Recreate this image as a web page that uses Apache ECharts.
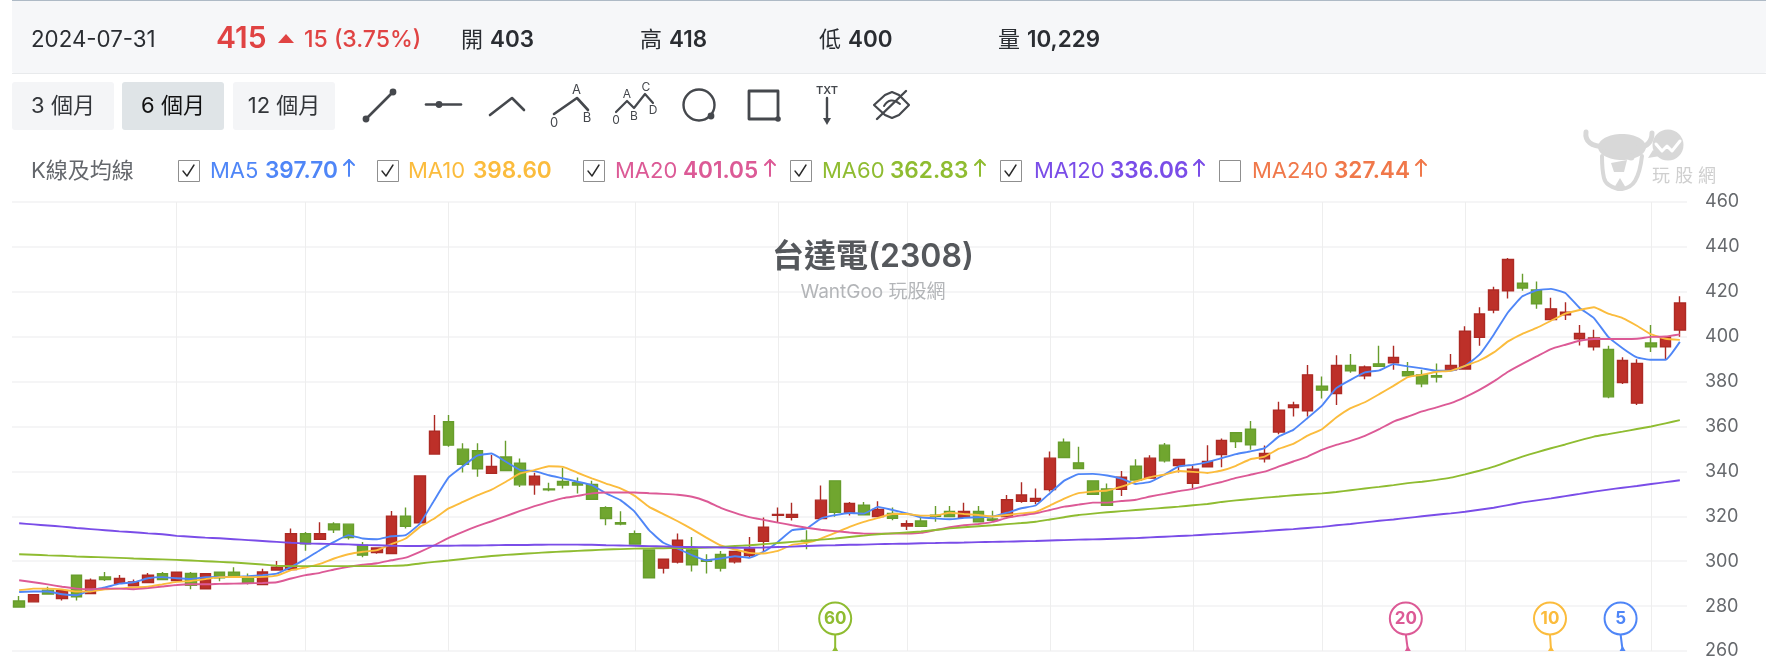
<!DOCTYPE html>
<html lang="zh-Hant">
<head>
<meta charset="utf-8">
<title>台達電(2308) K線</title>
<script src="https://cdn.jsdelivr.net/npm/echarts@6/dist/echarts.min.js"></script>
<style>
html,body{margin:0;padding:0;background:#fff}
#chart{width:1766px;height:668px}
</style>
</head>
<body>
<div id="chart"></div>
<script>
// Daily OHLC, oldest first
const opens = [282.3,281.9,287.1,283.4,293.8,285.6,293.0,290.2,289.0,290.5,294.4,291.4,294.5,287.7,295.1,295.1,292.9,289.6,296.1,296.3,312.2,309.8,316.6,316.5,307.1,303.9,303.4,320.1,317.1,347.7,
362.1,349.9,349.2,339.1,346.4,343.7,334.0,332.2,335.5,335.0,334.2,323.8,317.2,312.2,305.0,296.9,299.6,305.0,300.6,303.0,299.7,302.5,308.9,320.4,319.6,309.2,319.0,335.8,321.8,325.0,
319.9,321.3,315.7,317.9,320.5,322.2,319.6,322.2,318.8,319.9,326.7,326.7,331.9,353.0,343.8,335.8,332.2,332.0,342.3,337.0,351.7,342.6,334.7,342.0,347.5,357.2,358.8,345.6,357.5,368.4,
367.0,378.0,374.7,387.2,382.6,387.9,388.4,384.4,383.0,382.6,385.3,385.6,399.7,411.9,420.5,423.8,420.8,407.6,409.7,399.1,395.5,394.3,379.6,370.4,397.2,395.5,403];
const closes = [279.6,285.1,285.4,286.9,284.1,291.5,291.8,292.3,290.8,293.8,291.8,295.1,289.3,294.4,292.6,292.9,290.5,295.2,297.3,312.2,307.7,312.2,314.0,310.5,302.7,305.9,320.1,315.6,338.0,357.9,
351.7,343.2,341.2,342.2,340.4,334.0,337.9,331.8,333.9,333.9,327.6,319.0,316.6,307.6,292.6,300.9,309.4,298.4,299.9,296.9,304.3,305.5,315.2,320.8,320.8,308.9,327.2,321.8,325.7,320.7,
323.1,319.1,316.7,315.5,320.0,319.9,322.2,317.6,318.2,327.4,329.5,328.0,345.9,346.2,341.3,329.8,324.9,337.4,336.2,345.9,344.7,345.3,341.0,344.4,353.8,353.3,351.8,348.0,367.3,369.6,
383.0,376.2,387.2,384.8,386.5,386.8,390.8,382.6,379.0,382.0,387.2,402.4,410.1,420.8,434.4,421.7,414.7,412.4,410.9,401.5,399.4,373.2,389.4,388.1,395.5,399.9,415];
const lows = [279.6,281.9,285.4,282.5,282.5,285.6,291.2,290.2,289.0,290.5,291.8,291.4,287.5,287.7,291.1,292.9,289.6,289.6,296.1,296.3,304.6,309.8,312.6,309.7,301.8,303.3,303.4,314.6,317.1,347.7,
351.0,339.5,337.6,339.1,340.4,333.1,329.6,331.2,332.4,330.2,327.6,316.0,316.0,307.6,292.6,294.5,299.0,295.4,294.5,295.4,299.0,301.5,304.2,317.4,318.1,305.3,319.0,319.8,320.4,320.7,
319.9,318.2,313.9,315.5,317.6,319.9,319.6,317.6,318.2,319.9,326.0,325.4,331.0,346.2,341.3,329.8,324.9,329.0,336.2,337.0,344.0,339.5,332.6,342.0,341.9,350.4,349.6,344.0,356.6,364.5,
364.4,372.5,369.6,383.9,381.1,386.8,385.3,382.6,377.5,379.6,385.3,385.6,396.0,410.4,417.0,420.5,412.5,407.6,407.4,396.1,393.9,372.6,378.9,369.6,393.2,389.7,400];
const highs = [284.5,285.1,288.6,286.9,293.8,292.3,295.2,293.9,291.8,294.7,295.2,295.1,295.2,294.4,295.1,297.3,294.5,296.6,300.1,314.6,313.0,317.4,317.4,316.5,308.6,305.9,322.4,323.9,338.0,365.1,
365.1,352.5,352.5,347.3,353.6,345.8,339.4,335.0,341.6,337.3,335.8,324.5,322.3,313.7,305.0,300.9,312.3,310.8,303.1,304.5,304.3,310.8,319.5,323.9,326.0,313.8,333.7,335.8,326.4,326.4,
326.7,323.9,318.2,319.9,324.6,324.6,326.0,324.6,322.5,329.5,335.2,332.4,348.9,354.7,351.0,335.8,334.6,340.2,345.4,347.2,352.6,345.3,342.5,351.7,354.7,357.2,362.4,351.5,371.0,371.0,
387.4,382.3,391.7,392.3,387.2,396.0,396.0,388.7,385.3,388.1,392.3,404.6,413.1,422.3,435.1,428.0,424.6,417.3,415.3,405.2,403.1,396.0,390.9,390.0,405.2,399.9,418];

// Moving averages, one value per session
const ma5 = [286.3,286.5,286.5,285.3,284.8,287.1,288.3,290.0,290.6,292.4,292.9,292.4,292.1,292.9,293.0,293.0,293.3,293.8,294.5,297.5,300.9,304.9,308.6,311.6,310.1,309.8,311.1,311.6,316.8,327.2,
337.3,342.3,347.0,348.0,344.3,340.6,340.1,338.3,336.9,335.4,333.9,330.2,327.2,322.0,313.8,308.2,305.6,302.7,300.4,301.2,302.2,301.5,304.2,308.6,313.8,314.6,319.0,320.5,321.5,321.2,
324.2,322.8,321.3,319.6,319.1,318.7,319.3,319.6,319.9,321.6,323.6,324.8,330.3,335.9,338.8,338.9,338.2,336.8,334.4,335.3,338.5,342.2,342.9,344.1,345.9,347.7,348.9,350.4,355.6,358.5,
363.8,369.3,377.1,380.8,384.1,385.0,387.8,386.8,385.9,384.8,384.8,387.0,392.0,400.9,410.9,418.0,420.7,421.3,419.5,412.8,408.3,399.9,394.9,390.8,389.7,389.7,397.7];
const ma10 = [287.1,287.8,287.8,287.4,286.5,286.5,287.5,287.8,288.3,288.6,289.7,290.8,291.2,292.0,292.9,293.0,292.9,293.0,293.6,296.0,297.2,298.8,301.2,303.1,304.2,304.9,307.6,310.1,315.3,319.0,
323.5,326.4,329.3,331.9,335.4,339.1,340.6,342.3,342.0,339.4,336.9,334.6,332.4,329.1,324.2,321.0,317.8,314.3,310.5,307.0,305.2,303.7,303.4,304.6,307.3,308.2,310.1,312.6,315.3,317.5,
319.3,321.0,321.0,320.3,320.3,321.6,321.0,320.6,319.9,320.6,321.3,321.9,324.8,327.9,330.3,331.0,331.5,333.2,335.5,337.4,338.6,340.2,339.8,339.3,340.4,342.5,345.4,346.6,350.1,352.3,
355.9,358.8,364.0,368.2,370.8,374.4,378.1,382.0,383.0,384.4,384.8,387.0,389.4,393.0,397.9,401.3,403.9,407.1,410.3,411.9,413.1,410.3,408.3,404.9,401.0,399.1,398.6];
const ma20 = [291.5,290.6,289.7,288.6,287.8,287.5,287.8,287.8,287.5,288.0,288.7,289.4,289.7,289.7,289.9,290.0,290.2,290.3,290.6,292.3,293.8,294.8,296.3,297.5,298.4,299.1,300.4,301.6,304.2,307.1,
310.4,313.1,315.6,317.8,320.1,322.4,324.5,326.4,328.1,329.1,330.2,330.6,330.6,330.6,330.3,330.0,329.6,328.7,326.7,323.8,321.5,319.6,318.4,317.2,316.0,314.9,314.0,313.4,312.8,312.3,
312.2,312.4,312.3,312.6,313.9,315.1,316.0,316.6,317.5,319.3,320.4,321.3,322.8,324.3,325.2,326.1,326.1,326.8,327.4,328.8,330.0,331.2,332.2,333.8,335.3,337.1,338.5,339.9,342.2,344.4,
346.6,349.6,351.8,353.6,355.8,358.8,362.2,364.4,366.7,368.5,370.4,373.1,376.3,380.1,384.4,387.9,391.2,394.5,396.4,398.2,399.0,399.0,399.0,399.1,399.9,400.1,401.05];
const ma60 = [303.1,302.9,302.6,302.4,302.1,301.9,301.7,301.5,301.2,301.0,300.8,300.6,300.3,300.0,299.7,299.4,299.0,298.5,298.0,297.8,297.8,297.8,297.8,297.8,297.8,297.8,297.9,298.2,299.0,299.7,
300.3,301.0,301.7,302.3,302.8,303.2,303.6,304.0,304.3,304.6,304.9,305.2,305.4,305.6,305.7,305.8,305.9,305.9,306.1,306.4,306.8,307.1,307.6,308.1,308.6,309.1,309.6,310.1,310.8,311.4,
312.0,312.4,312.8,313.2,313.9,314.6,315.1,315.6,316.0,316.5,317.0,317.6,318.6,319.6,320.6,321.2,321.8,322.3,322.8,323.3,323.8,324.3,324.9,325.5,326.4,327.1,327.7,328.3,328.8,329.4,
329.8,330.2,330.8,331.6,332.4,333.1,333.9,334.8,335.4,336.2,337.2,338.7,340.3,342.1,344.4,346.6,348.5,350.3,352.0,353.8,355.5,356.6,357.7,358.9,360.0,361.4,362.83];
const ma120 = [316.9,316.4,315.9,315.4,314.8,314.3,313.8,313.3,312.9,312.4,312.0,311.3,310.9,310.5,310.2,309.8,309.4,309.0,308.6,308.2,307.9,307.8,307.6,307.5,307.2,307.1,306.9,306.8,306.8,306.9,
306.9,307.0,307.0,307.1,307.2,307.2,307.3,307.4,307.4,307.4,307.3,307.1,307.0,306.9,306.7,306.6,306.4,306.3,306.2,306.1,306.0,306.0,306.1,306.3,306.5,306.8,307.0,307.1,307.3,307.4,
307.6,307.7,307.8,308.0,308.1,308.2,308.3,308.5,308.6,308.7,308.9,309.0,309.2,309.4,309.6,309.7,309.9,310.1,310.3,310.6,310.9,311.2,311.5,311.9,312.2,312.6,313.0,313.4,313.9,314.3,
314.8,315.3,316.0,316.6,317.3,318.0,318.6,319.3,320.0,320.7,321.3,322.0,322.9,323.8,325.0,326.2,327.1,328.0,329.0,330.0,331.0,331.9,332.7,333.5,334.4,335.2,336.06];

const categories = opens.map((_, i) => i);
const monthLines = [11, 20, 30, 43, 53, 62, 72, 82, 91, 101, 114];
const yTicks = { min: 260, max: 460, step: 20 };

const maNames = ['MA5', 'MA10', 'MA20', 'MA60', 'MA120', 'MA240'];
const maLatest = ['397.70', '398.60', '401.05', '362.83', '336.06', '327.44'];
const maRising = [true, false, true, true, true, true];
const maChecked = [true, true, true, true, true, false];
const maColors = ['#4f86f7', '#fbbc3d', '#dc5a96', '#8fbc31', '#7a4de8', '#f0784a'];

// Sessions whose price drops out of each moving average next
const pinSessions = [57, 97, 107, 112];
const pinLabels = ['60', '20', '10', '5'];
const pinColors = ['#8fbc31', '#dc5a96', '#fbbc3d', '#4f86f7'];

const quote = { date: '2024-07-31', close: '415', change: '15 (3.75%)', open: '403', high: '418', low: '400', volume: '10,229' };
const rangeButtons = ['3 個月', '6 個月', '12 個月'];

const UI_FONT = 'Inter, "Noto Sans CJK TC", sans-serif';
const INK = '#2a2d32';
const ICON = '#45484d';

function label(text, x, y, size, fill, weight, align) {
  return { type: 'text', silent: true, z: 20, style: {
    text, x, y, fill, align: align || 'left', verticalAlign: 'middle',
    font: (weight || 'normal') + ' ' + size + 'px ' + UI_FONT } };
}
function stroke(shape, type, color, width, extra) {
  return { type, silent: true, z: 20, shape,
    style: Object.assign({ stroke: color || ICON, lineWidth: width || 2.2, fill: 'none', lineCap: 'round', lineJoin: 'round' }, extra || {}) };
}
function dot(cx, cy, r, color) {
  return { type: 'circle', silent: true, z: 21, shape: { cx, cy, r }, style: { fill: color || ICON } };
}
function fillRect(x, y, width, height, fill, r) {
  return { type: 'rect', silent: true, z: 1, shape: { x, y, width, height, r: r || 0 }, style: { fill } };
}

// Quote strip across the top
const header = [
  fillRect(12, 0, 1754, 73, '#f6f7f9', 2),
  fillRect(12, 0, 1754, 1, '#aebac6'),
  fillRect(12, 73, 1754, 1, '#e8eaec'),
  label(quote.date, 31, 40, 22.3, INK),
  label(quote.close, 216, 38.5, 30, '#e04343', '600'),
  { type: 'polygon', silent: true, z: 20, shape: { points: [[286, 34], [278, 43], [294, 43]] }, style: { fill: '#e04343' } },
  label(quote.change, 304, 40, 23, '#e04343', '500'),
  label('開', 461, 40, 22, INK), label(quote.open, 490, 40, 22.4, INK, '600'),
  label('高', 640, 40, 22, INK), label(quote.high, 669, 40, 22.4, INK, '600'),
  label('低', 819, 40, 22, INK), label(quote.low, 848, 40, 22.4, INK, '600'),
  label('量', 998, 40, 22, INK), label(quote.volume, 1027, 40, 22.4, INK, '600')
];

// Range buttons
const rangeBoxes = [[12, 102], [122, 102], [233, 102]];
const buttons = rangeButtons.flatMap((t, i) => [
  fillRect(rangeBoxes[i][0], 82, rangeBoxes[i][1], 48, i === 1 ? '#dfe4e7' : '#f4f5f7', 3),
  label(t, rangeBoxes[i][0] + rangeBoxes[i][1] / 2, 106, 22, i === 1 ? '#111' : '#33363a', 'normal', 'center')
]);

// Drawing tools
const tools = [
  stroke({ x1: 366, y1: 119, x2: 393, y2: 92 }, 'line', ICON, 2.6), dot(366, 119, 3.4), dot(393, 92, 3.4),
  stroke({ x1: 426, y1: 104.5, x2: 461, y2: 104.5 }, 'line', ICON, 2.6), dot(439, 104.5, 3.4),
  stroke({ points: [[490, 115], [512, 98], [524, 110]] }, 'polyline', ICON, 2.6),
  stroke({ points: [[554, 114], [577, 98], [588, 110]] }, 'polyline', ICON, 2.6),
  label('A', 576.5, 90, 13, ICON, 'normal', 'center'),
  label('0', 554, 123, 13, ICON, 'normal', 'center'),
  label('B', 587, 118, 13, ICON, 'normal', 'center'),
  stroke({ points: [[616, 112], [627, 101], [634, 108], [645, 94], [653, 103]] }, 'polyline', ICON, 2.2),
  label('A', 627, 94, 12, ICON, 'normal', 'center'),
  label('0', 616, 120, 12, ICON, 'normal', 'center'),
  label('B', 634, 116, 12, ICON, 'normal', 'center'),
  label('C', 646, 87, 12, ICON, 'normal', 'center'),
  label('D', 653, 110, 12, ICON, 'normal', 'center'),
  stroke({ cx: 699, cy: 105, r: 15.5 }, 'circle', ICON, 2.4), dot(711, 116, 3.4),
  stroke({ x: 749, y: 91, width: 29, height: 28 }, 'rect', ICON, 2.8), dot(778, 119, 2.8),
  label('TXT', 827, 91, 11, ICON, '600', 'center'),
  stroke({ x1: 827, y1: 98, x2: 827, y2: 119 }, 'line', ICON, 2.4),
  { type: 'polygon', silent: true, z: 20, shape: { points: [[823, 118], [831, 118], [827, 125]] }, style: { fill: ICON } },
  stroke({ points: [[874, 105], [885, 95], [892, 92], [899, 95], [909, 105], [899, 115], [892, 118], [885, 115]] }, 'polygon', ICON, 2.2),
  stroke({ x1: 884, y1: 106, cpx1: 890, cpy1: 96, x2: 900, y2: 104 }, 'bezierCurve', ICON, 2),
  stroke({ x1: 877, y1: 119, x2: 906, y2: 91 }, 'line', ICON, 2.4)
];

// Moving-average toggle row
const rowBoxes = [178, 377, 583, 790, 1000, 1219];
const rowNames = [210, 408, 615, 822, 1034, 1252];
const rowValues = [265, 473, 683, 890, 1110, 1334];
const rowArrows = [349, 0, 770, 980, 1199, 1421];
const maRow = [label('K線及均線', 31, 171, 22, '#64676c')];
maNames.forEach((name, i) => {
  maRow.push(stroke({ x: rowBoxes[i] + 0.5, y: 160.5, width: 21, height: 21 }, 'rect', '#8f8f8f', 1, { lineCap: 'butt' }));
  if (maChecked[i]) {
    const bx = rowBoxes[i];
    maRow.push(stroke({ points: [[bx + 5, 171], [bx + 9, 176], [bx + 16, 165]] }, 'polyline', '#2a2a2a', 1.4));
  }
  maRow.push(label(name, rowNames[i], 171, 22, maColors[i]));
  maRow.push(label(maLatest[i], rowValues[i], 171, 22.6, maColors[i], '600'));
  if (maRising[i]) {
    const ax = rowArrows[i];
    maRow.push(stroke({ x1: ax, y1: 176, x2: ax, y2: 160 }, 'line', maColors[i], 2));
    maRow.push(stroke({ points: [[ax - 5, 165], [ax, 160], [ax + 5, 165]] }, 'polyline', maColors[i], 2));
  }
});

// Site mark, upper right of the plot
const LOGO = '#d8d8d8';
const logo = [
  stroke({ x1: 1586, y1: 132, cpx1: 1584, cpy1: 146, x2: 1605, y2: 147 }, 'bezierCurve', LOGO, 5),
  stroke({ x1: 1652, y1: 133, cpx1: 1652, cpy1: 146, x2: 1638, y2: 148 }, 'bezierCurve', LOGO, 5),
  { type: 'ellipse', silent: true, z: 2, shape: { cx: 1622, cy: 147, rx: 24, ry: 13 }, style: { fill: LOGO } },
  stroke({ points: [[1602, 156], [1604, 178], [1609, 185], [1622, 189], [1635, 181], [1642, 156]], smooth: 0.4 }, 'polyline', LOGO, 4),
  { type: 'polygon', silent: true, z: 2, shape: { points: [[1611, 163], [1627, 160], [1624, 172], [1614, 172]] }, style: { fill: LOGO } },
  { type: 'polygon', silent: true, z: 2, shape: { points: [[1614, 188], [1620, 178], [1626, 188]] }, style: { fill: LOGO } },
  dot(1631, 157, 3.5, LOGO),
  dot(1668, 145, 15.5, LOGO),
  { type: 'polygon', silent: true, z: 20, shape: { points: [[1653, 150], [1648, 158], [1660, 156]] }, style: { fill: LOGO } },
  Object.assign(stroke({ points: [[1656, 144], [1662, 151], [1667, 146], [1672, 151], [1680, 141]] }, 'polyline', '#ffffff', 3), { z: 22 }),
  label('玩 股 網', 1652, 177, 18, '#cfcfcf')
];

const chart = echarts.init(document.getElementById('chart'), null, { renderer: 'canvas' });
chart.setOption({
  animation: false,
  backgroundColor: '#ffffff',
  title: {
    text: '台達電(2308)', subtext: 'WantGoo 玩股網',
    left: 868, top: 236, textAlign: 'center', itemGap: 10,
    textStyle: { fontFamily: UI_FONT, fontSize: 32, fontWeight: 600, color: '#55585c' },
    subtextStyle: { fontFamily: UI_FONT, fontSize: 19, color: '#b3b5b8' }
  },
  grid: { left: 12, right: 79, top: 202, bottom: 17, containLabel: false },
  xAxis: {
    type: 'category', data: categories, boundaryGap: true,
    axisLine: { show: false }, axisTick: { show: false }, axisLabel: { show: false },
    splitLine: {
      show: true, alignWithLabel: true,
      interval: (index) => monthLines.includes(index),
      lineStyle: { color: '#eeeeee', width: 1 }
    }
  },
  yAxis: {
    type: 'value', position: 'right', min: yTicks.min, max: yTicks.max, interval: yTicks.step,
    axisLine: { show: false }, axisTick: { show: false },
    axisLabel: { color: '#66696d', fontSize: 18, fontFamily: UI_FONT, margin: 18, padding: [3, 0, 0, 0] },
    splitLine: { lineStyle: { color: '#f2f2f3', width: 1.5 } }
  },
  series: [
    {
      type: 'candlestick', barWidth: 11,
      data: opens.map((o, i) => [o, closes[i], lows[i], highs[i]]),
      itemStyle: { color: '#bd3029', color0: '#70a62f', borderColor: '#ad2a24', borderColor0: '#679d2c', borderWidth: 1.4 }
    },
    ...[ma5, ma10, ma20, ma60, ma120].map((values, i) => ({
      type: 'line', name: maNames[i], data: values, showSymbol: false, smooth: 0.12,
      lineStyle: { color: maColors[i], width: 1.9 }, z: 5
    })),
    {
      type: 'custom', z: 8, clip: false, silent: true,
      encode: { x: 0, y: 1 },
      data: pinSessions.map((s, i) => [s, yTicks.min, pinLabels[i]]),
      renderItem(params, api) {
        const i = params.dataIndex;
        const base = api.coord([api.value(0), yTicks.min]);
        const lean = [0, -2, -1, -2][i];
        const color = pinColors[i];
        const cx = base[0] + lean, cy = base[1] - 32.5, r = 16;
        return {
          type: 'group',
          children: [
            { type: 'line', shape: { x1: cx, y1: cy + r, x2: base[0], y2: base[1] - 1 }, style: { stroke: color, lineWidth: 2 } },
            { type: 'polygon', shape: { points: [[base[0] - 3, base[1]], [base[0] + 3, base[1]], [base[0], base[1] - 5]] }, style: { fill: color } },
            { type: 'circle', shape: { cx, cy, r }, style: { fill: '#ffffff', stroke: color, lineWidth: 2 } },
            { type: 'text', style: { text: pinLabels[i], x: cx, y: cy, align: 'center', verticalAlign: 'middle', fill: color, font: 'bold 17px ' + UI_FONT } }
          ]
        };
      }
    }
  ],
  graphic: { elements: [...header, ...buttons, ...tools, ...maRow, ...logo] }
});
</script>
</body>
</html>
